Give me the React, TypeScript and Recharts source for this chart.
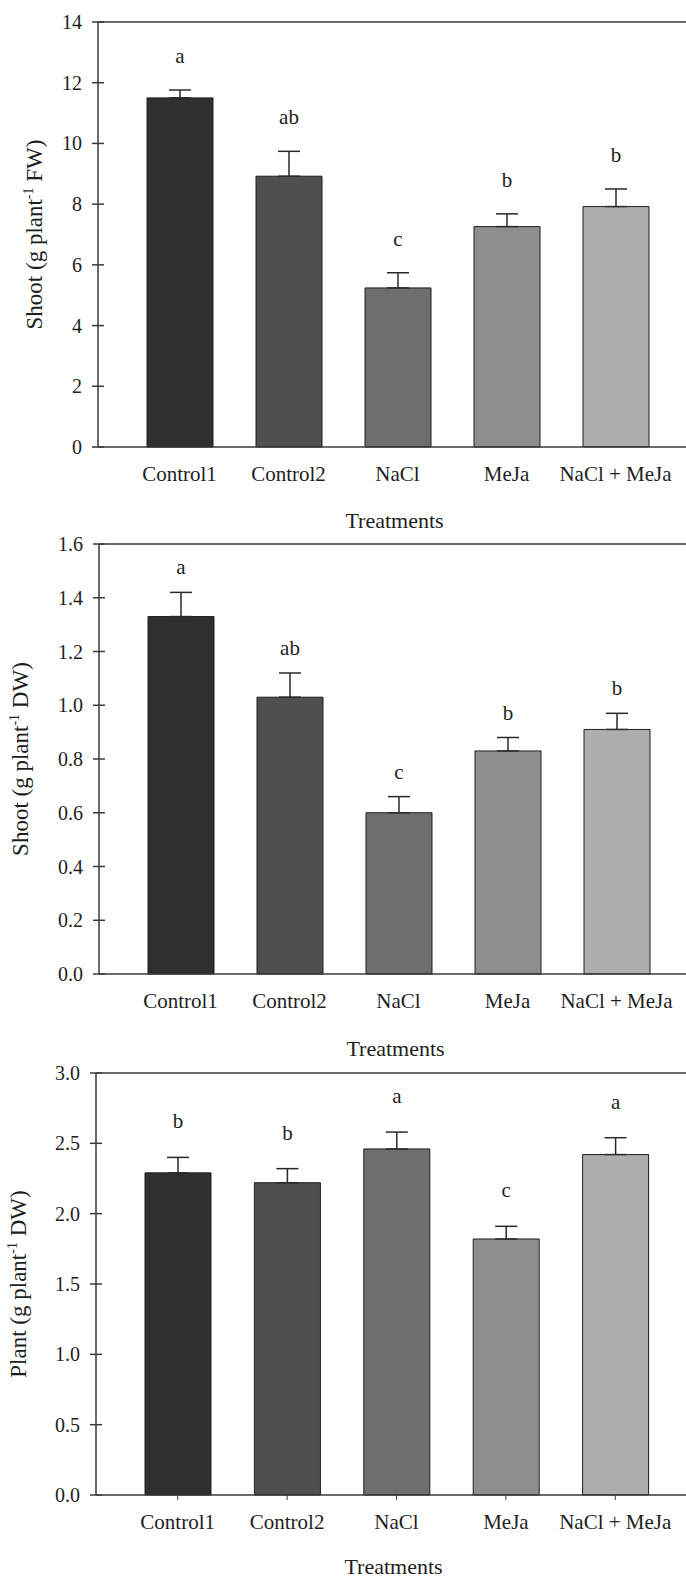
import React from 'react';
import { BarChart, Bar, XAxis, YAxis, ErrorBar, LabelList, Cell, ReferenceLine } from 'recharts';

// treatments on the x axis, same order in all three panels
const treatments = ['Control1', 'Control2', 'NaCl', 'MeJa', 'NaCl + MeJa'];
const barColors = ['#2f2f2f', '#4f4f4f', '#6e6e6e', '#8e8e8e', '#aeaeae'];

// panel 1: shoot fresh weight
const shootFW = [11.5, 8.92, 5.24, 7.26, 7.92];
const shootFWErr = [0.26, 0.82, 0.5, 0.42, 0.58];
const shootFWLetters = ['a', 'ab', 'c', 'b', 'b'];
const shootFWTicks = [0, 2, 4, 6, 8, 10, 12, 14];

// panel 2: shoot dry weight
const shootDW = [1.33, 1.03, 0.6, 0.83, 0.91];
const shootDWErr = [0.09, 0.09, 0.06, 0.05, 0.06];
const shootDWLetters = ['a', 'ab', 'c', 'b', 'b'];
const shootDWTicks = [0, 0.2, 0.4, 0.6, 0.8, 1.0, 1.2, 1.4, 1.6];

// panel 3: plant dry weight
const plantDW = [2.29, 2.22, 2.46, 1.82, 2.42];
const plantDWErr = [0.11, 0.1, 0.12, 0.09, 0.12];
const plantDWLetters = ['b', 'b', 'a', 'c', 'a'];
const plantDWTicks = [0, 0.5, 1.0, 1.5, 2.0, 2.5, 3.0];

const FONT = '"Liberation Serif", "Times New Roman", serif';
const AXIS = '#3a3a3a';
const TEXT = '#1e1e1e';

const buildRows = (values, errs, letters) =>
  treatments.map((name, i) => ({
    name,
    value: values[i],
    err: [0, errs[i]], // only the upper whisker is drawn
    letter: letters[i],
  }));

const YTick = ({ x, y, payload, decimals }) => (
  <g>
    <line x1={x + 10} x2={x + 22} y1={y} y2={y} stroke={AXIS} strokeWidth={1.5} />
    <text x={x} y={y} dy={7} textAnchor="end" fontSize={20} fontFamily={FONT} fill={TEXT}>
      {Number(payload.value).toFixed(decimals)}
    </text>
  </g>
);

const Panel = ({ values, errs, letters, ticks, decimals, title, unit, width, height, top, left, xAxisHeight, labelX, letterGap, xTickSize, titleDrop }) => {
  const rows = buildRows(values, errs, letters);
  const yMax = ticks[ticks.length - 1];

  const letterLabel = (p) => {
    const { x, y, width: w, height: h, index, value } = p;
    const v = values[index];
    const errTop = y - (errs[index] / v) * h;
    return (
      <text x={x + w / 2} y={errTop - letterGap} dy={6} textAnchor="middle" fontSize={21} fontFamily={FONT} fill={TEXT}>
        {value}
      </text>
    );
  };

  const yLabel = (p) => {
    const vb = p.viewBox || { y: 0, height: 0 };
    const cy = vb.y + vb.height / 2;
    return (
      <text transform={`rotate(-90, ${labelX}, ${cy})`} x={labelX} y={cy} textAnchor="middle" dy={7} fontSize={23} fontFamily={FONT} fill={TEXT}>
        <tspan>{title} (g plant</tspan>
        <tspan dy={-9} fontSize={14}>-1</tspan>
        <tspan dy={9}> {unit})</tspan>
      </text>
    );
  };

  const xLabel = (p) => {
    const vb = p.viewBox || { x: 0, y: 0, width: 0 };
    return (
      <text x={vb.x + vb.width / 2 - 3} y={vb.y + titleDrop} textAnchor="middle" fontSize={22} fontFamily={FONT} fill={TEXT}>
        Treatments
      </text>
    );
  };

  return (
    <BarChart width={width} height={height} data={rows} margin={{ top, right: 0, bottom: 0, left: 0 }}>
      <XAxis
        dataKey="name"
        height={xAxisHeight}
        padding={{ left: 27, right: 27 }}
        axisLine={{ stroke: AXIS, strokeWidth: 1.5 }}
        tickLine={xTickSize > 0 ? { stroke: AXIS, strokeWidth: 1 } : false}
        tickSize={xTickSize}
        tickMargin={19 - xTickSize}
        tick={{ fontSize: 21, fontFamily: FONT, fill: TEXT }}
        interval={0}
        label={xLabel}
      />
      <YAxis
        type="number"
        domain={[0, yMax]}
        ticks={ticks}
        width={left}
        axisLine={{ stroke: AXIS, strokeWidth: 1.5 }}
        tickLine={false}
        tickSize={6}
        tickMargin={10}
        tick={<YTick decimals={decimals} />}
        label={yLabel}
      />
      <ReferenceLine y={yMax} stroke={AXIS} strokeWidth={1.5} />
      <Bar dataKey="value" barSize={66} stroke="#1e1e1e" strokeWidth={1} isAnimationActive={false}>
        {rows.map((r, i) => (
          <Cell key={r.name} fill={barColors[i]} />
        ))}
        <ErrorBar dataKey="err" direction="y" width={11} stroke="#2a2a2a" strokeWidth={1.5} />
        <LabelList dataKey="letter" content={letterLabel} />
      </Bar>
    </BarChart>
  );
};

const slot = (top) => ({ position: 'absolute', left: 0, top });

export default function App() {
  return (
    <div style={{ position: 'absolute', left: 0, top: 0, width: 686, height: 1581, overflow: 'hidden', background: '#fff' }}>
      <div style={slot(0)}>
        <Panel values={shootFW} errs={shootFWErr} letters={shootFWLetters} ticks={shootFWTicks} decimals={0}
          title="Shoot" unit="FW" width={697} height={540} top={22} left={98} xAxisHeight={93}
          labelX={35} letterGap={33} xTickSize={0} titleDrop={81} />
      </div>
      <div style={slot(520)}>
        <Panel values={shootDW} errs={shootDWErr} letters={shootDWLetters} ticks={shootDWTicks} decimals={1}
          title="Shoot" unit="DW" width={698} height={543} top={24} left={99} xAxisHeight={89}
          labelX={21} letterGap={24} xTickSize={0} titleDrop={82} />
      </div>
      <div style={slot(1050)}>
        <Panel values={plantDW} errs={plantDWErr} letters={plantDWLetters} ticks={plantDWTicks} decimals={1}
          title="Plant" unit="DW" width={697} height={531} top={23} left={96} xAxisHeight={86}
          labelX={19} letterGap={35} xTickSize={5} titleDrop={79} />
      </div>
    </div>
  );
}
